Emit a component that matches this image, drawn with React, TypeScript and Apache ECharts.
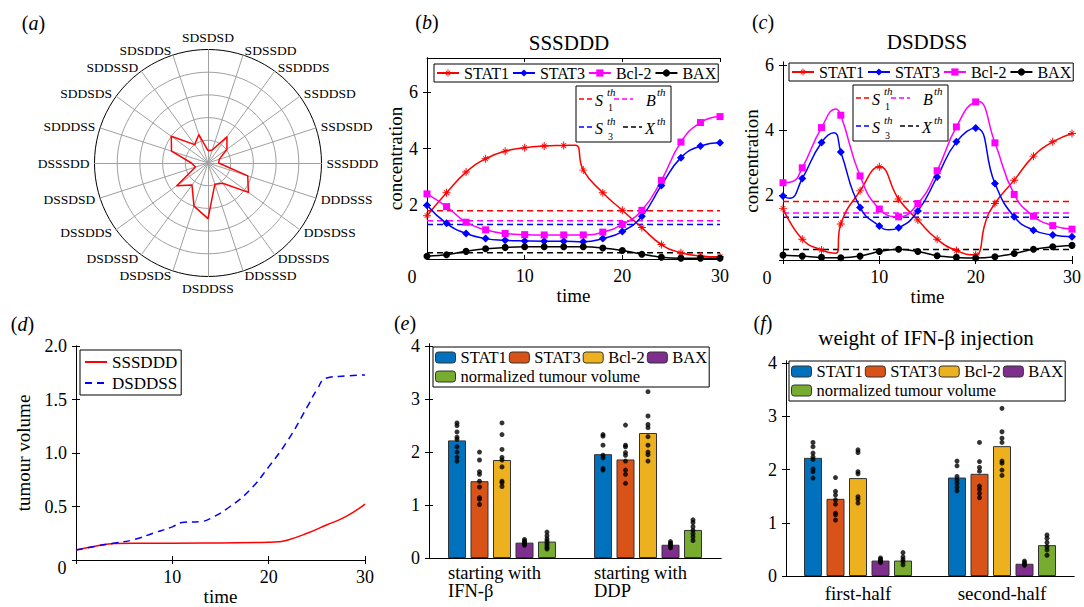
import React, { useEffect, useRef } from 'react';
import * as echarts from 'echarts';

const FF = 'Liberation Serif, Times New Roman, serif';

// ---------- (a) radar ----------
const radarNames = ['SDSDSD', 'SDSSDD', 'SSDDDS', 'SSDDSD', 'SSDSDD', 'SSSDDD', 'DDDSSS', 'DDSDSS', 'DDSSDS', 'DDSSSD', 'DSDDSS', 'DSDSDS', 'DSDSSD', 'DSSDDS', 'DSSDSD', 'DSSSDD', 'SDDDSS', 'SDDSDS', 'SDDSSD', 'SDSDDS'];
const radarValues = [0.54, 0.6, 1.42, 1.03, 0.52, 0.47, 1.84, 2.2, 1.1, 0.98, 2.45, 2.0, 1.2, 1.7, 0.58, 0.73, 1.69, 2.0, 1.0, 1.31];
const radarRings = 5;

// ---------- (b) SSSDDD ----------
const bSTAT1 = [[0, 1.63], [2, 2.44], [4, 3.17], [6, 3.64], [8, 3.91], [10, 4.03], [12, 4.09], [14, 4.11], [15.2, 4.12], [16, 3.24], [18, 2.44], [20, 1.82], [22, 1.21], [24, 0.61], [26, 0.32], [28, 0.21], [30, 0.18]];
const bSTAT3 = [[0, 2.0], [2, 1.36], [4, 1.0], [6, 0.82], [8, 0.76], [10, 0.74], [12, 0.73], [14, 0.73], [16, 0.71], [18, 0.82], [20, 1.07], [22, 1.61], [24, 2.7], [26, 3.68], [28, 4.09], [30, 4.21]];
const bBcl2 = [[0, 2.4], [2, 1.95], [4, 1.4], [6, 1.13], [8, 1.0], [10, 0.96], [12, 0.95], [14, 0.95], [16, 0.95], [18, 1.05], [20, 1.32], [22, 1.82], [24, 2.88], [26, 4.23], [28, 4.92], [30, 5.13]];
const bBAX = [[0, 0.2], [2, 0.25], [4, 0.37], [6, 0.46], [8, 0.51], [10, 0.53], [12, 0.53], [14, 0.53], [16, 0.53], [18, 0.49], [20, 0.4], [22, 0.27], [24, 0.16], [26, 0.13], [28, 0.13], [30, 0.13]];

// ---------- (c) DSDDSS ----------
const cSTAT1 = [[0, 1.59], [2, 0.64], [4, 0.31], [5.5, 0.21], [6, 1.11], [8, 2.13], [10, 2.87], [12, 1.88], [14, 1.23], [16, 0.64], [18, 0.29], [20, 0.16], [20.3, 0.18], [21, 1.15], [22, 1.74], [24, 2.46], [26, 3.2], [28, 3.64], [30, 3.9]];
const cSTAT3 = [[0, 1.97], [0.7, 1.9], [2, 2.51], [4, 3.62], [5.3, 3.92], [6, 3.33], [8, 1.62], [10, 1.05], [11, 0.93], [12, 0.99], [14, 1.51], [16, 2.56], [18, 3.64], [20, 4.07], [22, 2.36], [24, 1.33], [26, 0.92], [28, 0.77], [30, 0.72]];
const cBcl2 = [[0, 2.38], [1, 2.42], [2, 2.84], [4, 4.08], [5.5, 4.65], [6, 4.46], [8, 2.59], [10, 1.57], [12, 1.33], [14, 1.74], [16, 2.75], [18, 4.1], [20, 4.87], [20.3, 4.88], [22, 3.61], [24, 2.02], [26, 1.35], [28, 1.06], [30, 0.95]];
const cBAX = [[0, 0.15], [2, 0.12], [4, 0.08], [6, 0.07], [8, 0.12], [10, 0.26], [12, 0.33], [14, 0.26], [16, 0.13], [18, 0.08], [20, 0.06], [22, 0.1], [24, 0.2], [26, 0.33], [28, 0.41], [30, 0.45]];

// thresholds S1th, Bth, S3th, Xth
const thresholdValues = [1.8, 1.45, 1.32, 0.32];
const thresholdColors = ['#ff0000', '#ff00ff', '#0000ff', '#000000'];
const timeSpan = [0, 30];

// ---------- (d) tumour volume ----------
const dSSSDDD = [[0, 0.093], [2, 0.128], [4, 0.155], [6, 0.157], [10, 0.157], [15, 0.16], [20, 0.165], [21, 0.17], [22, 0.187], [24, 0.25], [26, 0.327], [28, 0.405], [30, 0.523]];
const dDSDDSS = [[0, 0.093], [2, 0.128], [4, 0.158], [6, 0.19], [8, 0.25], [10, 0.31], [11, 0.35], [13, 0.36], [14, 0.39], [16, 0.5], [18, 0.65], [20, 0.87], [22, 1.12], [24, 1.43], [25, 1.59], [26, 1.7], [28, 1.72], [30, 1.73]];

// ---------- (e) / (f) bars ----------
const barNames = ['STAT1', 'STAT3', 'Bcl-2', 'BAX', 'normalized tumour volume'];
const barColors = ['#0072BD', '#D95319', '#EDB120', '#7E2F8E', '#77AC30'];

const eCategories = ['starting with\nIFN-β', 'starting with\nDDP'];
const eSTAT1 = [2.22, 1.96];
const eSTAT3 = [1.45, 1.86];
const eBcl2 = [1.85, 2.36];
const eBAX = [0.29, 0.25];
const eTumour = [0.31, 0.53];
const eSTAT1Dots = [[2.55, 2.5, 2.38, 2.28, 2.24, 2.1, 2.0, 1.9, 1.83], [2.33, 2.3, 2.13, 1.94, 1.89, 1.69, 1.66]];
const eSTAT3Dots = [[2.0, 1.85, 1.63, 1.58, 1.45, 1.34, 1.14, 1.11, 1.01], [2.51, 2.13, 2.1, 1.99, 1.94, 1.83, 1.66, 1.58, 1.41]];
const eBcl2Dots = [[2.55, 2.33, 2.05, 1.9, 1.85, 1.72, 1.45, 1.42, 1.35], [3.14, 2.68, 2.52, 2.46, 2.29, 2.13, 2.0, 1.95, 1.83]];
const eBAXDots = [[0.35, 0.32, 0.3, 0.28, 0.26, 0.24], [0.31, 0.28, 0.26, 0.24, 0.21, 0.19]];
const eTumourDots = [[0.49, 0.42, 0.36, 0.32, 0.28, 0.24, 0.2, 0.17], [0.72, 0.67, 0.59, 0.52, 0.46, 0.4, 0.33]];

const fCategories = ['first-half', 'second-half'];
const fSTAT1 = [2.22, 1.85];
const fSTAT3 = [1.45, 1.92];
const fBcl2 = [1.84, 2.44];
const fBAX = [0.29, 0.23];
const fTumour = [0.29, 0.58];
const fSTAT1Dots = [[2.51, 2.43, 2.31, 2.24, 2.19, 2.01, 1.96, 1.84], [2.16, 2.07, 1.87, 1.8, 1.74, 1.67, 1.6]];
const fSTAT3Dots = [[1.85, 1.59, 1.52, 1.43, 1.35, 1.18, 1.15, 1.05], [2.51, 2.15, 2.04, 1.97, 1.69, 1.63, 1.55, 1.47]];
const fBcl2Dots = [[2.37, 2.32, 1.96, 1.92, 1.49, 1.44, 1.37], [3.15, 2.71, 2.59, 2.51, 2.16, 2.12, 1.99, 1.89]];
const fBAXDots = [[0.34, 0.31, 0.29, 0.27, 0.25], [0.28, 0.25, 0.22, 0.2]];
const fTumourDots = [[0.44, 0.36, 0.31, 0.27, 0.21], [0.77, 0.71, 0.63, 0.55, 0.49, 0.39]];

// ---------- layout ----------
const G_B = { left: 427, top: 58, width: 293, height: 201 };
const G_C = { left: 783, top: 62, width: 291, height: 198 };
const G_D = { left: 76, top: 346, width: 289, height: 214 };
const G_E = { left: 429, top: 344, width: 292, height: 214 };
const G_F = { left: 786, top: 361, width: 288, height: 215 };
const BAR_W = 18;
const BAR_GAP = 0.25;

const ASTERISK = 'path://M-0.12,-1L0.12,-1L0.12,1L-0.12,1Z M-1,-0.12L1,-0.12L1,0.12L-1,0.12Z M-0.672,-0.53L-0.53,-0.672L0.672,0.53L0.53,0.672Z M-0.53,0.672L-0.672,0.53L0.53,-0.672L0.672,-0.53Z';

const strip = (n: string) => n.split('|')[1];
const tickFont = { fontFamily: FF, fontSize: 18, color: '#000' };
const nameFont = { fontFamily: FF, fontSize: 19, color: '#000' };
const axisLine = { show: true, lineStyle: { color: '#000', width: 1 } };
const tickIn = (vals: number[] | null) =>
  vals ? { show: true, inside: true, length: 4, lineStyle: { color: '#000' }, customValues: vals } : { show: false };

function xPair(grid: number, min: number, max: number, labels: number[], ticks: number[], name: string, nameGap: number) {
  return [
    {
      type: 'value', gridIndex: grid, min, max, position: 'bottom', axisLine, axisTick: tickIn(ticks),
      axisLabel: { ...tickFont, margin: 8, customValues: labels }, splitLine: { show: false },
      name, nameLocation: 'middle', nameGap, nameTextStyle: nameFont,
    },
    {
      type: 'value', gridIndex: grid, min, max, position: 'top', axisLine, axisTick: tickIn(ticks),
      axisLabel: { show: false }, splitLine: { show: false },
    },
  ];
}
function yPair(grid: number, min: number, max: number, labels: number[], ticks: number[], name: string, nameGap: number, fmt?: (v: number) => string) {
  const label: any = { ...tickFont, margin: 9, customValues: labels };
  if (fmt) label.formatter = fmt;
  return [
    {
      type: 'value', gridIndex: grid, min, max, position: 'left', axisLine, axisTick: tickIn(ticks),
      axisLabel: label, splitLine: { show: false }, name, nameLocation: 'middle', nameGap, nameTextStyle: nameFont,
    },
    {
      type: 'value', gridIndex: grid, min, max, position: 'right', axisLine, axisTick: tickIn(ticks),
      axisLabel: { show: false }, splitLine: { show: false },
    },
  ];
}

function curve(name: string, pts: number[][], color: string, symbol: string, size: number, axis: number, smooth = 0.5) {
  return {
    type: 'line', name, xAxisIndex: axis, yAxisIndex: axis, smooth, showAllSymbol: true,
    symbol, symbolSize: size, lineStyle: { color, width: 1.5 }, itemStyle: { color }, z: 3,
    data: pts.map((p) => ({ value: p, symbol: p[0] % 2 === 0 ? symbol : 'none' })),
  };
}
function thresholdSeries(prefix: string, axis: number) {
  return thresholdValues.map((v, i) => ({
    type: 'line', name: prefix + '|th' + i, xAxisIndex: axis, yAxisIndex: axis, symbol: 'none',
    data: timeSpan.map((t) => [t, v]), lineStyle: { color: thresholdColors[i], width: 1.5, type: [6, 4] }, z: 2,
  }));
}
function barBlock(prefix: string, xi: number, xDots: number, yi: number, grid: any, bars: number[][], dots: number[][][]) {
  const out: any[] = [];
  bars.forEach((vals, k) => {
    out.push({
      type: 'bar', name: prefix + '|' + barNames[k], xAxisIndex: xi, yAxisIndex: yi, data: vals,
      barWidth: BAR_W, barGap: BAR_GAP * 100 + '%',
      itemStyle: { color: barColors[k], borderColor: '#333', borderWidth: 1 },
    });
  });
  const step = (BAR_W * (1 + BAR_GAP)) / (grid.width / bars[0].length);
  const pts: number[][] = [];
  dots.forEach((groups, k) => groups.forEach((vals, g) => vals.forEach((v) => pts.push([g + 0.5 + (k - 2) * step, v]))));
  out.push({
    type: 'scatter', name: prefix + '-dots', xAxisIndex: xDots, yAxisIndex: yi, data: pts,
    symbol: 'circle', symbolSize: 5, itemStyle: { color: '#000' }, z: 5,
  });
  return out;
}

const txt = (x: number, y: number, text: string, size: number, extra: any = {}) => ({
  type: 'text', x, y, z: 50,
  style: {
    text, fill: '#000', fontSize: size, fontFamily: FF, fontStyle: extra.italic ? 'italic' : 'normal',
    align: extra.align || 'center', textAlign: extra.align || 'center',
    verticalAlign: 'middle', textVerticalAlign: 'middle',
  },
});
const panelLabel = (x: number, y: number, letter: string) => ({
  type: 'text', x, y, z: 50,
  style: {
    text: `{n|(}{i|${letter}}{n|)}`, align: 'center', textAlign: 'center', verticalAlign: 'middle', textVerticalAlign: 'middle',
    fontFamily: FF, fontSize: 20,
    rich: {
      n: { fontFamily: FF, fontSize: 20, fill: '#000', color: '#000' },
      i: { fontFamily: FF, fontSize: 20, fontStyle: 'italic', fill: '#000', color: '#000' },
    },
  },
});
function thLegend(x0: number, y0: number) {
  const dash = (x1: number, x2: number, y: number, c: string) => ({
    type: 'line', shape: { x1, y1: y, x2, y2: y }, style: { stroke: c, lineWidth: 1.5, lineDash: [5, 3] },
  });
  return {
    type: 'group', x: x0, y: y0, z: 40,
    children: [
      { type: 'rect', shape: { x: 0, y: 0, width: 95, height: 56 }, style: { fill: '#fff', stroke: '#000', lineWidth: 1 } },
      dash(3, 18, 13, thresholdColors[0]), txt(19, 14, 'S', 16, { italic: true, align: 'left' }),
      txt(31, 6, 'th', 11, { italic: true, align: 'left' }), txt(32, 21, '1', 10, { align: 'left' }),
      dash(38, 57, 13, thresholdColors[1]), txt(70, 14, 'B', 16, { italic: true, align: 'left' }),
      txt(81, 6, 'th', 11, { italic: true, align: 'left' }),
      dash(3, 18, 41, thresholdColors[2]), txt(19, 42, 'S', 16, { italic: true, align: 'left' }),
      txt(31, 35, 'th', 11, { italic: true, align: 'left' }), txt(32, 50, '3', 10, { align: 'left' }),
      dash(47, 66, 41, thresholdColors[3]), txt(69, 42, 'X', 16, { italic: true, align: 'left' }),
      txt(81, 35, 'th', 11, { italic: true, align: 'left' }),
    ],
  };
}

function buildOption() {
  const ccw = [0, ...radarNames.map((_, i) => radarNames.length - 1 - i).slice(0, radarNames.length - 1)];
  const ringColors = Array.from({ length: radarRings + 1 }, (_, j) => (j === radarRings ? '#000' : '#a0a0a0'));

  const lineLegend = (prefix: string, left: number, top: number) => ({
    data: ['STAT1', 'STAT3', 'Bcl-2', 'BAX'].map((n) => prefix + '|' + n),
    left, top, orient: 'horizontal', itemWidth: 22, itemHeight: 9, itemGap: 3, padding: [1, 2],
    borderColor: '#000', borderWidth: 1, backgroundColor: '#fff', selectedMode: false, formatter: strip,
    textStyle: { fontFamily: FF, fontSize: 16, color: '#000', lineHeight: 15 },
  });
  const barLegend = (prefix: string, left: number, top: number) => ({
    data: barNames.map((n) => prefix + '|' + n),
    left, top, width: 278, orient: 'horizontal', itemWidth: 20, itemHeight: 11, itemGap: 2, padding: [2, 2],
    borderColor: '#000', borderWidth: 1, backgroundColor: '#fff', selectedMode: false, formatter: strip,
    itemStyle: { borderColor: '#333', borderWidth: 1 },
    textStyle: { fontFamily: FF, fontSize: 16.5, color: '#000', lineHeight: 17 },
  });

  const series: any[] = [
    {
      type: 'radar', radarIndex: 0, symbol: 'none',
      lineStyle: { color: '#ff0000', width: 1.5 }, itemStyle: { color: '#ff0000' },
      data: [{ value: ccw.map((i) => radarValues[i]), name: 'radar' }],
    },
    curve('b|STAT1', bSTAT1, '#ff0000', ASTERISK, 8, 0),
    curve('b|STAT3', bSTAT3, '#0000ff', 'diamond', 8, 0),
    curve('b|Bcl-2', bBcl2, '#ff00ff', 'rect', 7, 0),
    curve('b|BAX', bBAX, '#000000', 'circle', 7, 0, 0.3),
    ...thresholdSeries('b', 0),
    curve('c|STAT1', cSTAT1, '#ff0000', ASTERISK, 8, 2),
    curve('c|STAT3', cSTAT3, '#0000ff', 'diamond', 8, 2),
    curve('c|Bcl-2', cBcl2, '#ff00ff', 'rect', 7, 2),
    curve('c|BAX', cBAX, '#000000', 'circle', 7, 2, 0.3),
    ...thresholdSeries('c', 2),
    {
      type: 'line', name: 'd|SSSDDD', xAxisIndex: 4, yAxisIndex: 4, data: dSSSDDD, smooth: 0.5, symbol: 'none',
      lineStyle: { color: '#ff0000', width: 1.5 }, itemStyle: { color: '#ff0000' },
    },
    {
      type: 'line', name: 'd|DSDDSS', xAxisIndex: 4, yAxisIndex: 4, data: dDSDDSS, smooth: 0.5, symbol: 'none',
      lineStyle: { color: '#0000ff', width: 1.5, type: [7, 5] }, itemStyle: { color: '#0000ff' },
    },
    ...barBlock('e', 6, 8, 6, G_E, [eSTAT1, eSTAT3, eBcl2, eBAX, eTumour], [eSTAT1Dots, eSTAT3Dots, eBcl2Dots, eBAXDots, eTumourDots]),
    ...barBlock('f', 9, 11, 8, G_F, [fSTAT1, fSTAT3, fBcl2, fBAX, fTumour], [fSTAT1Dots, fSTAT3Dots, fBcl2Dots, fBAXDots, fTumourDots]),
  ];

  const catAxis = (grid: number, data: string[], multi: boolean) => ({
    type: 'category', gridIndex: grid, data, position: 'bottom', axisLine, axisTick: { show: false },
    splitLine: { show: false },
    axisLabel: multi
      ? {
          interval: 0, margin: 6, fontFamily: FF, fontSize: 18.5, color: '#000',
          formatter: (v: string) => v.split('\n').map((s) => `{l|${s}}`).join('\n'),
          rich: { l: { width: 108, align: 'left', fontFamily: FF, fontSize: 18.5, color: '#000', lineHeight: 18 } },
        }
      : { interval: 0, margin: 8, fontFamily: FF, fontSize: 19, color: '#000' },
  });
  const topPlain = (grid: number) => ({
    type: 'value', gridIndex: grid, position: 'top', min: 0, max: 1, axisLine, axisTick: { show: false },
    axisLabel: { show: false }, splitLine: { show: false },
  });
  const hiddenDots = (grid: number, n: number) => ({ type: 'value', gridIndex: grid, min: 0, max: n, show: false });

  return {
    animation: false,
    backgroundColor: '#fff',
    textStyle: { fontFamily: FF },
    radar: {
      center: [208, 163], radius: 113.5, startAngle: 90, shape: 'circle', splitNumber: radarRings,
      indicator: ccw.map((i) => ({ name: radarNames[i], min: 0, max: radarRings })),
      axisName: { color: '#000', fontFamily: FF, fontSize: 13.5 },
      axisNameGap: 5,
      splitLine: { lineStyle: { color: ringColors, width: 1 } },
      splitArea: { show: false },
      axisLine: { lineStyle: { color: '#a0a0a0', width: 1 } },
      axisTick: { show: false },
    },
    grid: [G_B, G_C, G_D, G_E, G_F].map((g) => ({ ...g, containLabel: false })),
    xAxis: [
      ...xPair(0, 0, 30, [10, 20, 30], [0, 10, 20, 30], 'time', 27),
      ...xPair(1, 0, 30, [10, 20, 30], [0, 10, 20, 30], 'time', 27),
      ...xPair(2, 0, 30, [10, 20, 30], [0, 10, 20, 30], 'time', 25),
      catAxis(3, eCategories, true), topPlain(3), hiddenDots(3, eCategories.length),
      catAxis(4, fCategories, false), topPlain(4), hiddenDots(4, fCategories.length),
    ],
    yAxis: [
      ...yPair(0, 0.1, 7.2, [2, 4, 6], [2, 4, 6], 'concentration', 21),
      ...yPair(1, 0, 6.1, [2, 4, 6], [0, 2, 4, 6], 'concentration', 21),
      ...yPair(2, 0, 2, [0.5, 1, 1.5, 2], [0, 0.5, 1, 1.5, 2], 'tumour volume', 43, (v: number) => v.toFixed(1)),
      ...yPair(3, 0, 4.04, [0, 1, 2, 3, 4], [0, 1, 2, 3, 4], '', 0),
      ...yPair(4, 0, 4.04, [0, 1, 2, 3, 4], [0, 1, 2, 3, 4], '', 0),
    ],
    legend: [
      lineLegend('b', 434, 64),
      lineLegend('c', 789, 63),
      {
        data: ['d|SSSDDD', 'd|DSDDSS'], left: 80, top: 350, orient: 'vertical', itemWidth: 22, itemHeight: 10,
        itemGap: 3, padding: [3, 4], borderColor: '#000', borderWidth: 1, backgroundColor: '#fff',
        selectedMode: false, formatter: strip, itemStyle: { opacity: 0 },
        textStyle: { fontFamily: FF, fontSize: 17, color: '#000', lineHeight: 18 },
      },
      barLegend('e', 433, 347),
      barLegend('f', 789, 361),
    ],
    graphic: [
      panelLabel(33.5, 22.5, 'a'), panelLabel(427, 22, 'b'), panelLabel(763, 22, 'c'),
      panelLabel(22.5, 323.5, 'd'), panelLabel(405, 323, 'e'), panelLabel(763, 323, 'f'),
      txt(569, 43, 'SSSDDD', 21), txt(927, 42, 'DSDDSS', 21), txt(926, 338, 'weight of IFN-β injection', 21),
      txt(412, 277, '0', 18), txt(767, 278, '0', 18), txt(62, 568, '0', 18),
      thLegend(576, 86), thLegend(853, 85),
    ],
    series,
  };
}

export default function App() {
  const ref = useRef<HTMLDivElement>(null);
  useEffect(() => {
    if (!ref.current) return;
    const chart = echarts.init(ref.current, undefined, { renderer: 'svg' });
    chart.setOption(buildOption() as any);
    return () => chart.dispose();
  }, []);
  return <div ref={ref} style={{ position: 'fixed', left: 0, top: 0, width: 1084, height: 607, background: '#fff' }} />;
}
